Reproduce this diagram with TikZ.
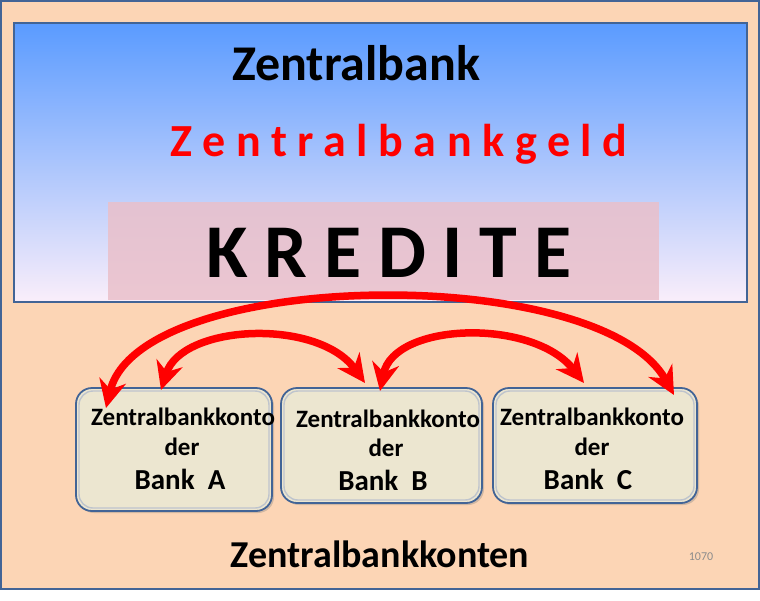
\documentclass[tikz,border=0pt]{standalone}
\usepackage{fontspec}
\setmainfont{Carlito}
\newfontfamily\geldfont{Carlito}[LetterSpace=23]
\newfontfamily\kredfont{Carlito}[LetterSpace=22]
\usetikzlibrary{arrows.meta,shadows}
\definecolor{peach}{RGB}{252,213,181}
\definecolor{frameblue}{RGB}{66,100,150}
\definecolor{topblue}{RGB}{90,155,255}
\definecolor{botpink}{RGB}{250,238,250}
\definecolor{kredpink}{RGB}{234,192,202}
\definecolor{boxfill}{RGB}{236,230,208}
\definecolor{bevel}{RGB}{190,196,205}
\definecolor{numgray}{RGB}{140,140,140}
\tikzset{
  kontobox/.style={draw=frameblue, line width=1.8pt, fill=boxfill, rounded corners=16pt,
    drop shadow={shadow xshift=2pt, shadow yshift=-2pt, opacity=0.35}},
  kontobevel/.style={draw=bevel, line width=1.4pt, rounded corners=14pt},
  boxtext/.style={anchor=base, inner sep=0pt, font=\bfseries\fontsize{25}{30}\selectfont},
  banktext/.style={anchor=base, inner sep=0pt, font=\bfseries\fontsize{29}{34}\selectfont},
  redarrow/.style={draw=red, line width=7.5pt, {Stealth[length=28pt,width=27pt,inset=9pt]}-{Stealth[length=28pt,width=27pt,inset=9pt]}}
}
\begin{document}
\begin{tikzpicture}[x=1pt,y=-1pt]
\useasboundingbox (0,0) rectangle (760,600);
\fill[white] (0,0) rectangle (760,600);
% outer frame
\draw[frameblue, line width=2pt, fill=peach] (1,1) rectangle (759,589);
% central bank area
\shade[top color=topblue, bottom color=botpink] (14,23) rectangle (747,302);
\draw[frameblue, line width=2pt] (14,23) rectangle (747,302);
\fill[kredpink, opacity=0.85] (108,202) rectangle (659,300);
% titles
\node[anchor=base, inner sep=0pt, font=\bfseries\fontsize{50}{56}\selectfont] (zb) at (356,80) {Zentralbank};
\node[anchor=base, inner sep=0pt, text=red, font=\geldfont\bfseries\fontsize{46}{52}\selectfont] (zbg) at (399,156) {Zentralbankgeld};
\node[anchor=base, inner sep=0pt, font=\kredfont\bfseries\fontsize{76}{80}\selectfont] (kred) at (389,277) {KREDITE};
% boxes
\draw[kontobox] (76,388) rectangle (272,511);
\draw[kontobevel] (79,391) rectangle (269,508);
\draw[kontobox] (281,388) rectangle (482,503);
\draw[kontobevel] (284,391) rectangle (479,500);
\draw[kontobox] (493,388) rectangle (697,503);
\draw[kontobevel] (496,391) rectangle (694,500);
\node[boxtext] (a1) at (183,425) {Zentralbankkonto};
\node[boxtext] (a2) at (182,455) {der};
\node[banktext] (a3) at (180,489) {Bank\ \ A};
\node[boxtext] (b1) at (388,427) {Zentralbankkonto};
\node[boxtext] (b2) at (386,456) {der};
\node[banktext] (b3) at (383,490) {Bank\ \ B};
\node[boxtext] (c1) at (592,425) {Zentralbankkonto};
\node[boxtext] (c2) at (592,455) {der};
\node[banktext] (c3) at (588,489) {Bank\ \ C};
\node[anchor=base, inner sep=0pt, font=\bfseries\fontsize{38}{44}\selectfont] (konten) at (380,567) {Zentralbankkonten};
\node[anchor=base, inner sep=0pt, text=numgray, font=\fontsize{12}{14}\selectfont] (num) at (701,560) {1070};
% arrow end points
\coordinate (pA1) at (106,408);
\coordinate (pC1) at (674,395);
\coordinate (pA2) at (161,390);
\coordinate (pB2) at (365,383);
\coordinate (pB3) at (380,391);
\coordinate (pC3) at (584,383);
\draw[redarrow] (pA1) .. controls (140,268) and (600,262) .. (pC1);
\draw[redarrow] (pA2) .. controls (182,324) and (318,318) .. (pB2);
\draw[redarrow] (pB3) .. controls (394,322) and (533,318) .. (pC3);
\end{tikzpicture}
\end{document}
